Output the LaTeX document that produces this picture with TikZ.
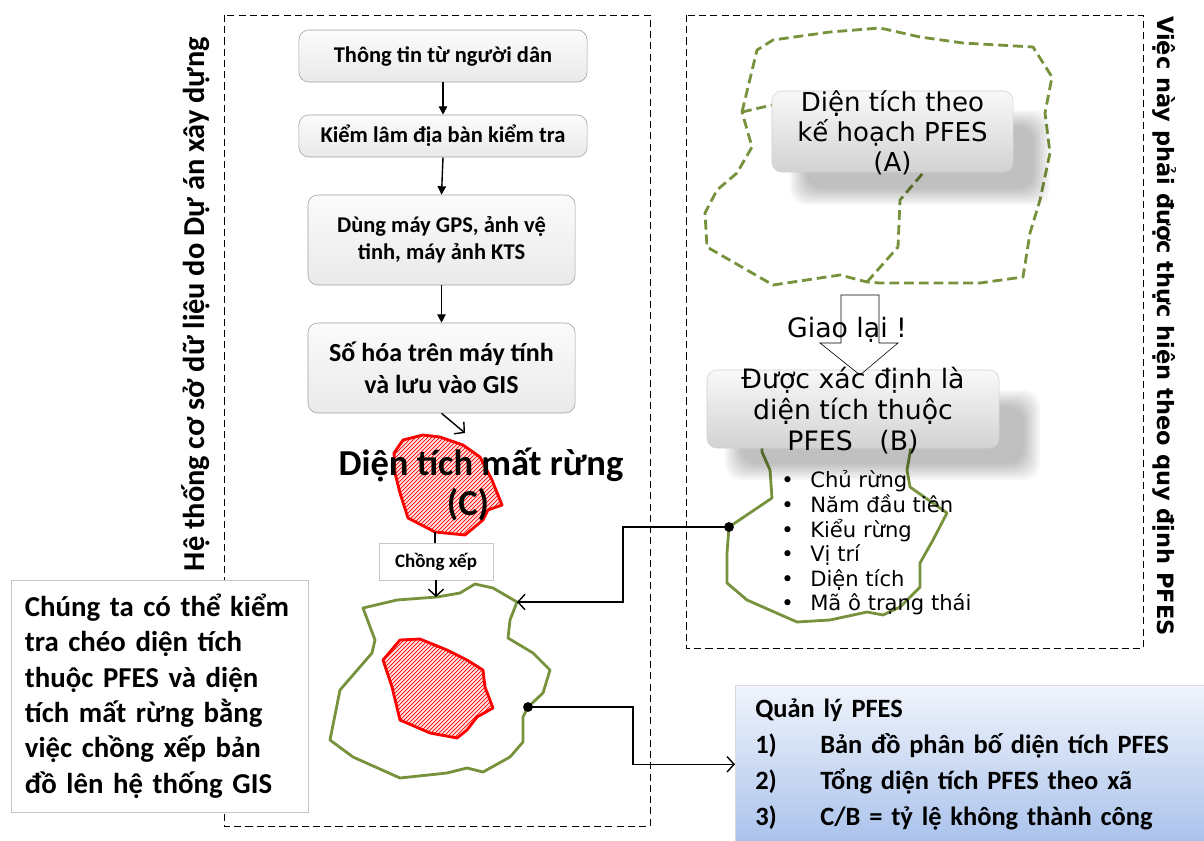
\documentclass[tikz,border=0pt]{standalone}
\usepackage{fontspec}
\setmainfont{Carlito}
\newfontfamily\vnsans{DejaVu Sans}
\usetikzlibrary{arrows.meta}
\definecolor{leafgreen}{HTML}{76923C}
\definecolor{lossred}{HTML}{FF0000}
\definecolor{losspink}{HTML}{FFE4E4}
\definecolor{paleblue}{HTML}{F0F4FB}
\definecolor{skyblue}{HTML}{AAC2EC}
% outlines of the two forest loss patches
\newcommand\losspatchC{(403,440) -- (423,435) -- (440,437) -- (463,445) -- (480,457) -- (492,480)
  -- (502,505) -- (488,510) -- (483,520) -- (465,535) -- (435,532) -- (408,518) -- (400,493)
  -- (395,473) -- (394,453) -- cycle}
\newcommand\losspatchM{(400,640) -- (420,639) -- (447,650) -- (467,660) -- (483,670) -- (485,687)
  -- (493,708) -- (477,717) -- (467,730) -- (457,738) -- (430,733) -- (400,720) -- (392,687)
  -- (383,660) -- cycle}

\begin{document}
\begin{tikzpicture}[x=0.025cm, y=-0.025cm,
  flowbox/.style={draw=gray!75, rounded corners=7pt, top color=gray!3, bottom color=gray!17,
    align=center, inner sep=0pt, font=\bfseries\fontsize{16}{19.2}\selectfont},
  pfesbox/.style={draw=gray!35, rounded corners=7pt, top color=gray!5, bottom color=gray!35,
    inner sep=0pt},
  softshade/.style={fill=black, opacity=.03, rounded corners=12pt},
  pfestext/.style={align=center, font=\vnsans\fontsize{18.5}{21.5}\selectfont},
  dashframe/.style={dash pattern=on 5pt off 3pt, thin},
  flowarrow/.style={-{Triangle[length=6pt,width=6pt]}, line width=1pt},
  openarrow/.style={-{Straight Barb[length=5pt,width=11pt]}, line width=1pt},
  forestline/.style={draw=leafgreen, line width=2pt, line join=round},
  planline/.style={leafgreen, line width=2pt, dash pattern=on 7pt off 3.5pt, line join=round},
  lossedge/.style={draw=lossred, line width=2pt, line join=round},
  hatch/.style={draw=lossred, line width=0.5pt}]
  \useasboundingbox (0,0) rectangle (1204,841);

  % frames and side titles
  \draw[dashframe] (224,15) rectangle (650,826);
  \draw[dashframe] (686,15) rectangle (1143,648);
  \node[rotate=90, font=\bfseries\fontsize{21.6}{24}\selectfont] (leftnote) at (196,304)
    {Hệ thống cơ sở dữ liệu do Dự án xây dựng};
  \node[rotate=-90, font=\vnsans\bfseries\fontsize{16}{19}\selectfont] (rightnote) at (1165,326)
    {Việc này phải được thực hiện theo quy định PFES};

  % data collection steps
  \node[flowbox, minimum width=7.2cm, minimum height=1.3cm] (info) at (443,56) {Thông tin từ người dân};
  \node[flowbox, minimum width=7.2cm, minimum height=1.05cm] (check) at (443,136) {Kiểm lâm địa bàn kiểm tra};
  \node[flowbox, minimum width=6.675cm, minimum height=2.25cm] (gps) at (441.5,240)
    {Dùng máy GPS, ảnh vệ\\tinh, máy ảnh KTS};
  \node[flowbox, minimum width=6.675cm, minimum height=2.25cm,
    font=\bfseries\fontsize{18.5}{22.8}\selectfont] (gis) at (441.5,368)
    {Số hóa trên máy tính\\và lưu vào GIS};
  \draw[flowarrow] (info.south) -- (check.north);
  \draw[flowarrow] (check.south) -- (gps.north);
  \draw[flowarrow] (gps.south) -- (gis.north);

  % forest loss (C)
  \coordinate (cTop) at (465,433);
  \coordinate (cBot) at (435,532);
  \begin{scope}
    \clip \losspatchC;
    \fill[losspink] (380,420) rectangle (520,550);
    \foreach \k in {260,264,...,520}
      \draw[hatch] (\k,545) -- ++(130,-130);
  \end{scope}
  \draw[lossedge] \losspatchC;
  \node[font=\bfseries\fontsize{26}{30}\selectfont] (losstitle) at (481,465) {Diện tích mất rừng};
  \node[font=\bfseries\fontsize{26}{30}\selectfont] (losstag) at (468,505) {(C)};
  \draw[openarrow] (gis.south) -- (cTop);

  \node[draw=gray!45, fill=white, minimum width=2.85cm, minimum height=0.925cm, inner sep=0pt,
    font=\bfseries\fontsize{13.5}{16}\selectfont] (overlay) at (436,561.5) {Chồng xếp};
  \draw[line width=1pt] (cBot) -- (cBot |- overlay.north);

  % overlaid map
  \coordinate (gTop) at (437,597);
  \coordinate (gHit) at (517,602);
  \coordinate (dotL) at (528,707);
  \draw[forestline] (363,608) -- (397,600) -- (gTop) -- (460,593) -- (475,584) -- (493,588)
    -- (gHit) -- (510,620) -- (508,638) -- (533,653) -- (550,670) -- (543,693) -- (dotL)
    -- (523,717) -- (523,742) -- (510,757) -- (483,772) -- (467,768) -- (447,773) -- (400,778)
    -- (353,757) -- (330,740) -- (340,690) -- (372,653) -- (375,640) -- cycle;
  \begin{scope}
    \clip \losspatchM;
    \fill[losspink] (370,620) rectangle (510,750);
    \foreach \k in {250,254,...,510}
      \draw[hatch] (\k,750) -- ++(130,-130);
  \end{scope}
  \draw[lossedge] \losspatchM;
  \draw[openarrow] (overlay.south) -- (overlay.south |- gTop);

  % planned area (A)
  \draw[planline] (742,112) -- (757,50) -- (773,40) -- (830,32) -- (880,28) -- (920,37)
    -- (963,43) -- (1033,47) -- (1052,77) -- (1045,113) -- (1050,153) -- (1040,200)
    -- (1030,233) -- (1023,277) -- (980,283) -- (880,283) -- (867,282) -- (840,275)
    -- (773,285) -- (707,247) -- (705,213) -- (717,190) -- (737,173) -- (752,147) -- cycle;
  \draw[planline] (742,112) -- (772,105);
  \draw[planline] (867,282) -- (898,247) -- (900,200) -- (923,173);
  \foreach \g in {0,2,...,16}
    \fill[softshade] (790+\g,110+\g) rectangle (1050-\g,205-\g);
  \node[pfesbox, minimum width=6.025cm, minimum height=2.025cm] (planA) at (892.5,131.5) {};
  \node[pfestext] (planAtext) at (892.5,133) {Diện tích theo\\kế hoạch PFES\\(A)};

  % confirmed area (B)
  \coordinate (dotB) at (729,527);
  \draw[forestline] (762,440) -- (762,452) -- (770,470) -- (772,498) -- (dotB) -- (727,553)
    -- (727,583) -- (747,600) -- (797,622) -- (830,620) -- (867,612) -- (883,615) -- (900,607)
    -- (920,587) -- (920,563) -- (933,540) -- (947,513) -- (910,487) -- (907,470) -- (910,453)
    -- (912,440) -- cycle;
  \foreach \g in {0,2,...,16}
    \fill[softshade] (725+\g,390+\g) rectangle (1040-\g,480-\g);
  \node[pfesbox, minimum width=7.3cm, minimum height=1.95cm] (pfesB) at (853,409) {};
  \node[pfestext, font=\vnsans\fontsize{19}{22}\selectfont] (pfesBtext) at (853,411)
    {Được xác định là\\diện tích thuộc\\PFES\quad(B)};
  \draw[thin] (841,295) -- (879,295) -- (879,343) -- (898,343) -- (860,375) -- (820,343)
    -- (841,343) -- cycle;
  \node[font=\vnsans\fontsize{19}{22}\selectfont] (handover) at (847,330) {Giao lại !};
  \node[anchor=west, align=left, inner sep=0pt, font=\vnsans\fontsize{15}{17.5}\selectfont]
    (attrs) at (781,543)
    {\makebox[0.725cm][l]{•}Chủ rừng\\\makebox[0.725cm][l]{•}Năm đầu tiên\\
     \makebox[0.725cm][l]{•}Kiểu rừng\\\makebox[0.725cm][l]{•}Vị trí\\
     \makebox[0.725cm][l]{•}Diện tích\\\makebox[0.725cm][l]{•}Mã ô trạng thái};

  % notes
  \node[draw=gray!45, fill=white, minimum width=7.425cm, minimum height=5.8cm, text width=6.725cm,
    inner xsep=0.35cm, inner ysep=0pt, align=left, font=\bfseries\fontsize{20.5}{25.2}\selectfont]
    (crosscheck) at (159.5,696)
    {Chúng ta có thể kiểm\\tra chéo diện tích\\thuộc PFES và diện\\tích mất rừng bằng\\
     việc chồng xếp bản\\đồ lên hệ thống GIS};
  \node[draw=gray!30, top color=paleblue, bottom color=skyblue, anchor=north west,
    minimum width=11.9cm, minimum height=3.95cm, text width=10.9cm, inner xsep=0.5cm,
    inner ysep=0pt, align=left, font=\bfseries\fontsize{18.8}{25.6}\selectfont] (qly) at (735,685)
    {Quản lý PFES\\\makebox[1.625cm][l]{1)}Bản đồ phân bố diện tích PFES\\
     \makebox[1.625cm][l]{2)}Tổng diện tích PFES theo xã\\
     \makebox[1.625cm][l]{3)}C/B = tỷ lệ không thành công};

  % links between maps
  \draw[openarrow] (dotB) -- ++(-106,0) |- (gHit);
  \fill (dotB) circle (3.5pt);
  \draw[openarrow] (dotL) -- ++(105,0) |- (qly.west);
  \fill (dotL) circle (3.5pt);
\end{tikzpicture}
\end{document}
